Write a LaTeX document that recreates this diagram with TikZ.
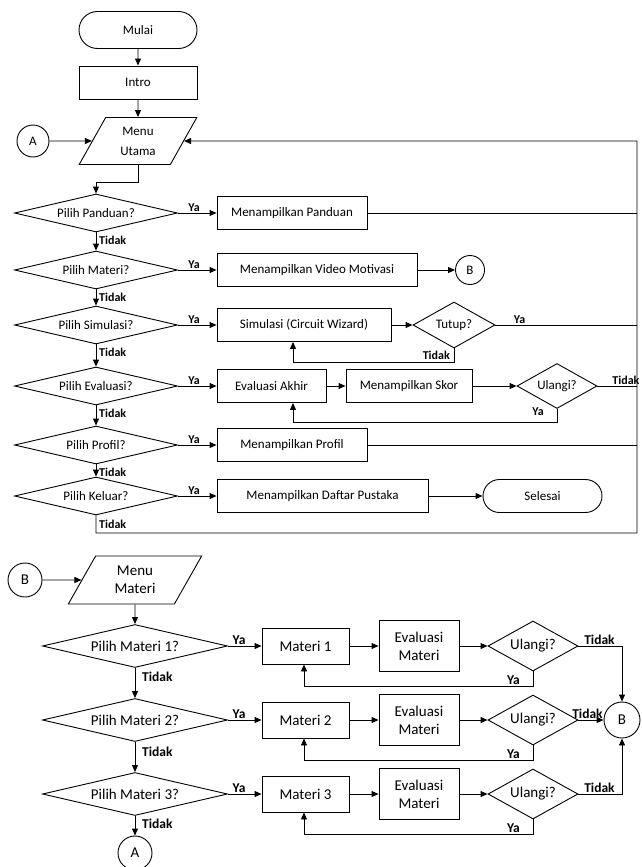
\documentclass[tikz,border=0pt]{standalone}
\usepackage{fontspec}
\setmainfont{Carlito}
\usetikzlibrary{shapes.geometric,shapes.misc,arrows.meta,calc}
\begin{document}
\begin{tikzpicture}[x=1pt,y=-1pt,
  every node/.style={font=\fontsize{13}{14}\selectfont},
  base/.style={draw, line width=0.9pt, inner sep=0pt},
  box/.style={base, rectangle, minimum height=33pt},
  term/.style={base, rounded rectangle},
  dec/.style={base, diamond},
  io/.style={base, trapezium, trapezium left angle=63, trapezium right angle=117, trapezium stretches=true, align=center},
  conn/.style={base, circle},
  arr/.style={line width=0.9pt, -{Triangle[length=7pt,width=6pt]}},
  ln/.style={line width=0.9pt},
  lab/.style={font=\fontsize{12}{13}\selectfont\bfseries, inner sep=1pt},
  labb/.style={font=\fontsize{13.5}{14}\selectfont\bfseries, inner sep=1pt},
  big/.style={font=\fontsize{15}{18}\selectfont},
]
\useasboundingbox (0,0) rectangle (641,867);

% ---------- upper flowchart ----------
\node[term, minimum width=118pt, minimum height=37pt] (mulai) at (138,30) {Mulai};
\node[box, minimum width=118pt] (intro) at (138,82.5) {Intro};
\node[io, minimum width=118pt, minimum height=47pt, font=\fontsize{13}{20}\selectfont] (menu) at (138,141) {Menu\\Utama};
\node[conn, minimum size=32pt] (A1) at (33,141) {A};

\node[dec, minimum width=163pt, minimum height=38pt, aspect=4.3] (d1) at (96,213) {Pilih Panduan?};
\node[dec, minimum width=163pt, minimum height=38pt, aspect=4.3] (d2) at (96,270) {Pilih Materi?};
\node[dec, minimum width=163pt, minimum height=38pt, aspect=4.3] (d3) at (96,325) {Pilih Simulasi?};
\node[dec, minimum width=163pt, minimum height=38pt, aspect=4.3] (d4) at (96,386) {Pilih Evaluasi?};
\node[dec, minimum width=163pt, minimum height=38pt, aspect=4.3] (d5) at (96,445) {Pilih Profil?};
\node[dec, minimum width=163pt, minimum height=38pt, aspect=4.3] (d6) at (96,496) {Pilih Keluar?};

\node[box, minimum width=150pt] (b1) at (292,213) {Menampilkan Panduan};
\node[box, minimum width=200pt] (b2) at (317,270) {Menampilkan Video Motivasi};
\node[conn, minimum size=29pt] (B1) at (470,270) {B};
\node[box, minimum width=174pt] (b3) at (304,325) {Simulasi (Circuit Wizard)};
\node[dec, minimum width=82pt, minimum height=46pt, aspect=1.8] (tutup) at (454,325) {Tutup?};
\node[box, minimum width=109pt] (b4) at (271.5,386) {Evaluasi Akhir};
\node[box, minimum width=126pt] (skor) at (409,386) {Menampilkan Skor};
\node[dec, minimum width=80pt, minimum height=45pt, aspect=1.8] (ul) at (557,386) {Ulangi?};
\node[box, minimum width=150pt] (b5) at (292,445) {Menampilkan Profil};
\node[box, minimum width=211pt] (b6) at (322.5,496) {Menampilkan Daftar Pustaka};
\node[term, minimum width=119pt, minimum height=33pt] (selesai) at (542.5,496) {Selesai};

\coordinate (R) at (637,141);
\coordinate (Rb) at (637,533);

\draw[arr] (mulai) -- (intro);
\draw[arr] (intro) -- (menu);
\draw[arr] (A1) -- (menu.west);
\draw[arr] (menu.south) -- ++(0,17) -| (d1.north);

\draw[arr] (d1) -- (d2);
\draw[arr] (d2) -- (d3);
\draw[arr] (d3) -- (d4);
\draw[arr] (d4) -- (d5);
\draw[arr] (d5) -- (d6);
\node[lab, anchor=west] at ($(d1.south)+(2,8)$) {Tidak};
\node[lab, anchor=west] at ($(d2.south)+(2,8)$) {Tidak};
\node[lab, anchor=west] at ($(d3.south)+(2,8)$) {Tidak};
\node[lab, anchor=west] at ($(d4.south)+(2,8)$) {Tidak};
\node[lab, anchor=west] at ($(d5.south)+(2,8)$) {Tidak};
\node[lab, anchor=west] at ($(d6.south)+(2,9)$) {Tidak};

\draw[arr] (d1) -- node[lab, above, pos=0.42] {Ya} (b1);
\draw[arr] (d2) -- node[lab, above, pos=0.42] {Ya} (b2);
\draw[arr] (d3) -- node[lab, above, pos=0.42] {Ya} (b3);
\draw[arr] (d4) -- node[lab, above, pos=0.42] {Ya} (b4);
\draw[arr] (d5) -- node[lab, above, pos=0.42] {Ya} (b5);
\draw[arr] (d6) -- node[lab, above, pos=0.42] {Ya} (b6);

\draw[arr] (b2) -- (B1);
\draw[arr] (b3) -- (tutup);
\draw[arr] (tutup.south) -- ++(0,14) -| ($(b3.south)+(-11,0)$);
\node[lab, anchor=east] at ($(tutup.south)+(-3,7)$) {Tidak};
\draw[arr] (b4) -- (skor);
\draw[arr] (skor) -- (ul);
\draw[arr] (ul.south) -- ++(0,13) -| ($(b4.south)+(21.5,0)$);
\node[lab, anchor=east] at ($(ul.south)+(-12,3)$) {Ya};
\draw[arr] (b6) -- (selesai);

\draw[ln] (b1.east) -- (b1.east -| R);
\draw[ln] (tutup.east) -- node[lab, above, pos=0.17] {Ya} (tutup.east -| R);
\draw[ln] (ul.east) -- node[lab, above, pos=0.72] {Tidak} (ul.east -| R);
\draw[ln] (b5.east) -- (b5.east -| R);
\draw[arr] (d6.south) |- (Rb) -- (R) -- (menu.east);

% ---------- lower flowchart ----------
\node[conn, big, minimum size=34pt] (B2) at (25,580) {B};
\node[io, minimum width=134pt, minimum height=48pt, big] (mm) at (135,580) {Menu\\Materi};
\node[dec, big, minimum width=185pt, minimum height=43pt, aspect=4.3] (m1) at (135,646) {Pilih Materi 1?};
\node[dec, big, minimum width=185pt, minimum height=43pt, aspect=4.3] (m2) at (135,720) {Pilih Materi 2?};
\node[dec, big, minimum width=185pt, minimum height=43pt, aspect=4.3] (m3) at (135,794) {Pilih Materi 3?};
\node[conn, big, minimum size=34pt] (A2) at (135,853) {A};

\node[box, big, minimum width=87pt, minimum height=36pt] (mt1) at (305.5,646) {Materi 1};
\node[box, big, minimum width=87pt, minimum height=36pt] (mt2) at (305.5,720) {Materi 2};
\node[box, big, minimum width=87pt, minimum height=36pt] (mt3) at (305.5,794) {Materi 3};
\node[box, big, minimum width=80pt, minimum height=51pt, align=center] (ev1) at (419,646) {Evaluasi\\Materi};
\node[box, big, minimum width=80pt, minimum height=51pt, align=center] (ev2) at (419,720) {Evaluasi\\Materi};
\node[box, big, minimum width=80pt, minimum height=51pt, align=center] (ev3) at (419,794) {Evaluasi\\Materi};
\node[dec, big, minimum width=90pt, minimum height=50pt, aspect=1.8] (u1) at (533,646) {Ulangi?};
\node[dec, big, minimum width=90pt, minimum height=50pt, aspect=1.8] (u2) at (533,720) {Ulangi?};
\node[dec, big, minimum width=90pt, minimum height=50pt, aspect=1.8] (u3) at (533,794) {Ulangi?};
\node[conn, big, minimum size=36pt] (B3) at (622,720) {B};

\draw[arr] (B2) -- (mm.west);
\draw[arr] (mm) -- (m1);
\draw[arr] (m1) -- (m2);
\draw[arr] (m2) -- (m3);
\draw[arr] (m3) -- (A2);
\node[labb, anchor=west] at ($(m1.south)+(6,9)$) {Tidak};
\node[labb, anchor=west] at ($(m2.south)+(6,10)$) {Tidak};
\node[labb, anchor=west] at ($(m3.south)+(6,8)$) {Tidak};

\draw[arr] (m1) -- node[labb, above, pos=0.33] {Ya} (mt1);
\draw[arr] (m2) -- node[labb, above, pos=0.33] {Ya} (mt2);
\draw[arr] (m3) -- node[labb, above, pos=0.33] {Ya} (mt3);

\draw[arr] (mt1) -- (ev1);
\draw[arr] (mt2) -- (ev2);
\draw[arr] (mt3) -- (ev3);
\draw[arr] (ev1) -- (u1);
\draw[arr] (ev2) -- (u2);
\draw[arr] (ev3) -- (u3);

\draw[arr] (u1.south) -- ++(0,15) -| ($(mt1.south)+(-1.5,0)$);
\draw[arr] (u2.south) -- ++(0,15) -| ($(mt2.south)+(-1.5,0)$);
\draw[arr] (u3.south) -- ++(0,15) -| ($(mt3.south)+(-1.5,0)$);
\node[labb, anchor=east] at ($(u1.south)+(-12,9)$) {Ya};
\node[labb, anchor=east] at ($(u2.south)+(-12,9)$) {Ya};
\node[labb, anchor=east] at ($(u3.south)+(-12,9)$) {Ya};

\draw[arr] (u1.east) -| (B3.north);
\draw[arr] (u2) -- (B3);
\draw[arr] (u3.east) -| (B3.south);
\node[labb, anchor=south] at ($(u1.east)+(21,0)$) {Tidak};
\node[labb, anchor=south] at ($(u2.east)+(9,0)$) {Tidak};
\node[labb, anchor=south] at ($(u3.east)+(21,0)$) {Tidak};
\end{tikzpicture}
\end{document}
